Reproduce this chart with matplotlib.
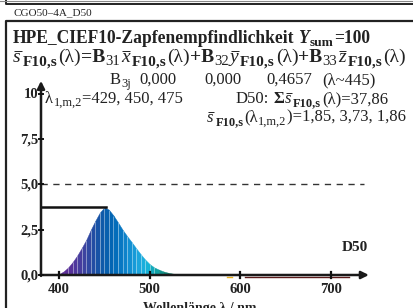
import numpy as np
import matplotlib
matplotlib.use("Agg")
import matplotlib.pyplot as plt
from matplotlib.colors import to_rgb

plt.rcParams['font.family'] = ['Liberation Serif', 'DejaVu Serif']

# ---------------- data ----------------
wavelengths = [395, 400, 405, 410, 415, 420, 425, 430, 435, 440, 445, 450, 455,
               460, 465, 470, 475, 480, 485, 490, 495, 500, 505, 510, 515, 520,
               525, 530, 535, 540, 545]
sensitivity = [0.0, 0.05, 0.2, 0.42, 0.72, 1.08, 1.5, 1.95, 2.5, 3.0, 3.45, 3.73,
               3.6, 3.28, 2.9, 2.5, 2.15, 1.82, 1.48, 1.15, 0.85, 0.6, 0.42, 0.3,
               0.2, 0.13, 0.08, 0.05, 0.025, 0.01, 0.0]
x_ticks = [400, 500, 600, 700]
y_ticks = [0.0, 2.5, 5.0, 7.5, 10.0]
y_tick_labels = ["0,0", "2,5", "5,0", "7,5", "10"]
peak_wl = 450
peak_val = 3.73
ref_level = 5.0

header = "CGO50\u20134A_D50"
b_values = ["0,000", "0,000", "0,4657", "(\u03bb~445)"]
xlabel = "Wellenlänge \u03bb / nm"
illum = "D50"

# ---------------- layout (pixels) ----------------
W, H = 414, 308
INK = '#222222'
fig = plt.figure(figsize=(W / 100, H / 100), dpi=100)
renderer = fig.canvas.get_renderer()
pix = fig.add_axes([0, 0, 1, 1])
pix.set_xlim(0, W)
pix.set_ylim(H, 0)
pix.axis('off')

ax = fig.add_axes([0, 0, 1, 1], zorder=2)
ax.patch.set_alpha(0)
ax.axis('off')
x0_px, x0_wl, px_per_nm = 41.0, 380.0, 0.9057
y0_px, px_per_unit = 275.0, 18.14
ax.set_xlim(x0_wl - x0_px / px_per_nm, x0_wl + (W - x0_px) / px_per_nm)
ax.set_ylim(-(H - y0_px) / px_per_unit, y0_px / px_per_unit)

# frames
pix.plot([6, 6, W + 5], [-1, 4, 4], color=INK, lw=1.4, clip_on=False)
pix.plot([0, W], [0.6, 0.6], color='#888888', lw=0.8)
pix.plot([6, 6, W + 5], [H + 5, 20.5, 20.5], color=INK, lw=1.6, clip_on=False)

# spectrum colours (style)
stops = [(395, '#5a2a90'), (410, '#5a2e98'), (425, '#43409f'), (440, '#1c50a4'),
         (450, '#0a5dab'), (460, '#0068b6'), (470, '#0a7cc6'), (480, '#1595d6'),
         (490, '#1eaade'), (497, '#16b4da'), (505, '#10a6b0'), (515, '#108c80'),
         (525, '#0d6a55'), (535, '#0a4535'), (545, '#0a3025')]
sw = [s[0] for s in stops]
sc = np.array([to_rgb(s[1]) for s in stops])


def spec_color(w):
    return tuple(np.interp(w, sw, sc[:, i]) for i in range(3))


for i in range(len(wavelengths) - 1):
    xs = [wavelengths[i], wavelengths[i + 1]]
    ys = [sensitivity[i], sensitivity[i + 1]]
    c = spec_color(0.5 * (xs[0] + xs[1]))
    ax.fill_between(xs, 0, ys, color=c, lw=0.3, edgecolor=c, zorder=2)
for w, v in zip(wavelengths, sensitivity):
    if 410 <= w <= 505:
        ax.vlines(w, 0, v, color='white', lw=0.45, alpha=0.6, zorder=3)

# faint spectral tint along the axis (as in the reference)
ax.plot([585, 591], [-0.13, -0.13], color='#e8b020', lw=1.0, zorder=4)
ax.plot([605, 720], [-0.1, -0.1], color='#5a1a1a', lw=1.0, zorder=4)

# reference lines
ax.plot([x0_wl, 737], [ref_level, ref_level], color='#333333', lw=1.0,
        dashes=(4.5, 4.0), zorder=3)
ax.plot([x0_wl, peak_wl + 2], [peak_val, peak_val], color='#111111', lw=1.8, zorder=4)

# axes with arrows
ax.annotate('', xy=(742, 0), xytext=(x0_wl - 1, 0),
            arrowprops=dict(arrowstyle='-|>', lw=1.8, color='#1a1a1a',
                            mutation_scale=11, shrinkA=0, shrinkB=0), zorder=5)
ax.annotate('', xy=(x0_wl, 10.7), xytext=(x0_wl, -0.05),
            arrowprops=dict(arrowstyle='-|>', lw=1.8, color='#1a1a1a',
                            mutation_scale=11, shrinkA=0, shrinkB=0), zorder=5)

tick_font = dict(fontsize=10.5, fontweight='bold', color=INK)
for t in x_ticks:
    ax.plot([t, t], [-0.17, 0.17], color='#111111', lw=1.6, zorder=6)
    ax.text(t, -0.42, str(t), ha='center', va='top', **tick_font)
for t, lab in zip(y_ticks, y_tick_labels):
    ax.plot([x0_wl - 2.5, x0_wl + 2.5], [t, t], color='#111111', lw=1.4, zorder=6)
    ax.text(x0_wl - 2.5, t - 0.05, lab, ha='right', va='center', **tick_font)

ax.text(741, 1.5, illum, ha='right', va='center', fontsize=11, fontweight='bold',
        color=INK)


# ------------- rich text lines built from runs -------------
def draw_runs(x, y, parts, scale=1.0):
    arts = []
    cx = x
    for s, size, weight, style, dy, gap, bar in parts:
        t = pix.text(cx, y + dy, s, fontsize=size * scale, fontweight=weight,
                     fontstyle=style, va='baseline', ha='left', color=INK)
        bb = t.get_window_extent(renderer=renderer)
        arts.append(t)
        if bar:
            xh = 0.46 * size * scale * 100 / 72  # x-height in px
            yb = y - xh - 2.2
            ln, = pix.plot([cx + 1.5, cx + bb.width + 1.0], [yb, yb], color=INK,
                           lw=0.7, solid_capstyle='butt')
            arts.append(ln)
        cx += bb.width + gap * scale
    return arts, cx - x


def fit_runs(x0, x1, y, parts):
    arts, w = draw_runs(x0, y, parts)
    for a in arts:
        a.remove()
    arts, w = draw_runs(x0, y, parts, (x1 - x0) / w)
    return arts


def sub(s, size=9.0, weight='normal', dy=3.0, gap=0.6):
    return (s, size, weight, 'normal', dy, gap, False)


def txt(s, size=12, weight='normal', style='normal', gap=0.0, bar=False):
    return (s, size, weight, style, 0, gap, bar)


LAM = "\u03bb"
title_parts = [txt("HPE_CIEF10-Zapfenempfindlichkeit", 12.5, 'bold', gap=3.5),
               txt("Y", 12.5, 'bold', 'italic', gap=0.5),
               sub("sum", 9.5, 'bold', 3.5),
               txt("=100", 12.5, 'bold')]


def barred(letter, size=12, subsize=9.5):
    return [txt(letter, size, style='italic', gap=2.0, bar=True),
            sub("F10,s", subsize, 'bold', 3.2),
            txt("(" + LAM + ")", size)]


formula_parts = (barred("s") + [txt("=B", 12, 'bold'), sub("31", 9.0)] +
                 barred("x") + [txt("+B", 12, 'bold'), sub("32", 9.0)] +
                 barred("y") + [txt("+B", 12, 'bold'), sub("33", 9.0)] +
                 barred("z"))
lam_parts = [txt(LAM, 12, gap=0.5), sub("1,m,2", 9.0), txt("=429, 450, 475", 12)]
sum_parts = ([txt("D50:", 12, gap=4), txt("\u03a3", 12, 'bold', gap=0.5)] +
             barred("s", 12, 9.0)[:2] + [txt("(" + LAM + ")=37,86", 12)])
val_parts = (barred("s", 12, 9.0)[:2] +
             [txt("(" + LAM, 12, gap=0.5), sub("1,m,2", 9.0),
              txt(")=1,85, 3,73, 1,86", 12)])

pix.text(14, 12.5, header, fontsize=8, va='center', ha='left', color=INK)
fit_runs(13, 372, 43, title_parts)
fit_runs(13, 405, 62, formula_parts)
draw_runs(110, 84, [txt("B", 12, gap=0.5), sub("3j", 9.0)])
for xp, s in zip([139, 204, 266, 322], b_values):
    pix.text(xp, 84, s, fontsize=12, va='baseline', ha='left', color=INK)
draw_runs(45, 103, lam_parts)
draw_runs(236, 103, sum_parts)
arts, wv = draw_runs(0, -50, val_parts)
for a in arts:
    a.remove()
draw_runs(406 - wv, 121.5, val_parts)

pix.text(200, 302, xlabel, fontsize=10, fontweight='bold', va='top', ha='center',
         color=INK)

fig.savefig("out.png", dpi=100)
